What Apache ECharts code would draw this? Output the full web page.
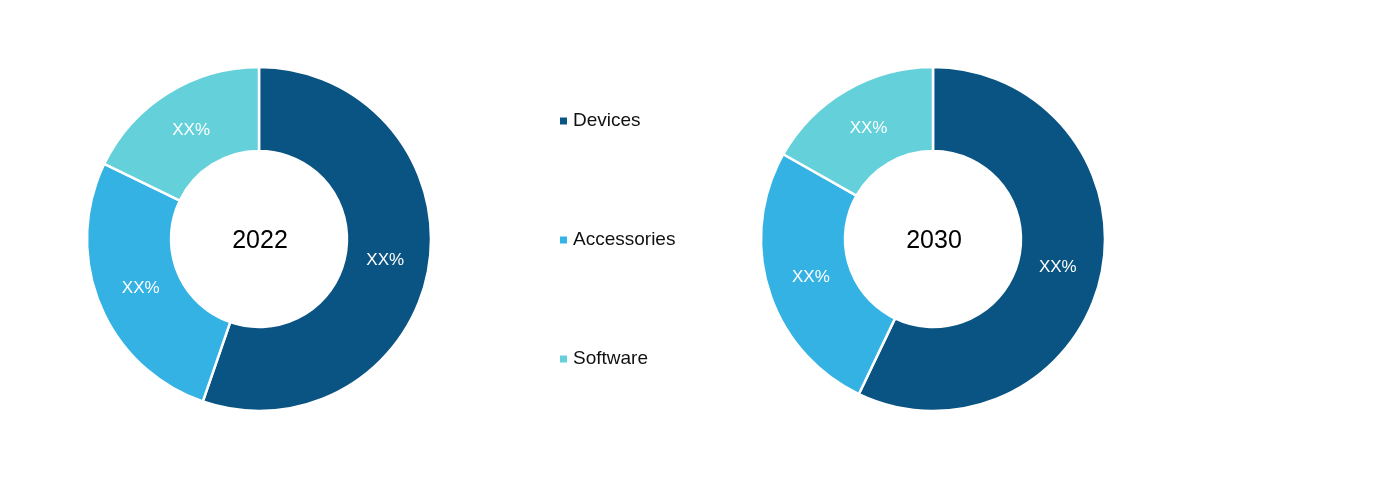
<!DOCTYPE html>
<html>
<head>
<meta charset="utf-8">
<script src="https://cdn.jsdelivr.net/npm/echarts@6/dist/echarts.min.js"></script>
<style>
html,body{margin:0;padding:0;background:#fff;}
#c{width:1393px;height:477px;}
</style>
</head>
<body>
<div id="c"></div>
<script>
const categories = ['Devices', 'Accessories', 'Software'];
const values2022 = [55.3, 26.9, 17.8];
const values2030 = [57.1, 26.1, 16.8];
const years = ['2022', '2030'];
const colors = ['#0A5483', '#35B2E4', '#64D1DA'];

const chart = echarts.init(document.getElementById('c'));
const font = '"Liberation Sans", Arial, sans-serif';

function pieSeries(vals, center, year) {
  return {
    type: 'pie',
    name: year,
    center: center,
    radius: [88, 172],
    startAngle: 90,
    clockwise: true,
    silent: true,
    itemStyle: { borderColor: '#fff', borderWidth: 2.5 },
    label: { show: false },
    labelLine: { show: false },
    data: categories.map((c, i) => ({ name: c, value: vals[i] }))
  };
}

function labelSeries(vals, center, year) {
  return {
    type: 'pie',
    name: year + ' labels',
    center: center,
    radius: [80, 170],
    startAngle: 90,
    clockwise: true,
    silent: true,
    z: 3,
    avoidLabelOverlap: false,
    itemStyle: { color: 'rgba(0,0,0,0)', borderWidth: 0 },
    label: {
      show: true,
      position: 'inside',
      formatter: 'XX%',
      color: '#fff',
      fontSize: 17,
      fontFamily: font
    },
    labelLine: { show: false },
    data: categories.map((c, i) => ({ name: c, value: vals[i] }))
  };
}

chart.setOption({
  animation: false,
  color: colors,
  legend: {
    orient: 'vertical',
    left: 553,
    top: 106,
    itemWidth: 9,
    itemHeight: 9,
    itemGap: 99,
    icon: 'rect',
    textStyle: { fontSize: 19, color: '#111', fontFamily: font, lineHeight: 20 },
    data: categories
  },
  graphic: [
    { type: 'text', position: [260, 241], style: { text: years[0], fill: '#000', fontSize: 25, fontFamily: font, align: 'center', verticalAlign: 'middle' } },
    { type: 'text', position: [934, 241], style: { text: years[1], fill: '#000', fontSize: 25, fontFamily: font, align: 'center', verticalAlign: 'middle' } }
  ],
  series: [
    pieSeries(values2022, [259, 239], years[0]),
    pieSeries(values2030, [933, 239], years[1]),
    labelSeries(values2022, [259, 239], years[0]),
    labelSeries(values2030, [933, 239], years[1])
  ]
});
</script>
</body>
</html>
